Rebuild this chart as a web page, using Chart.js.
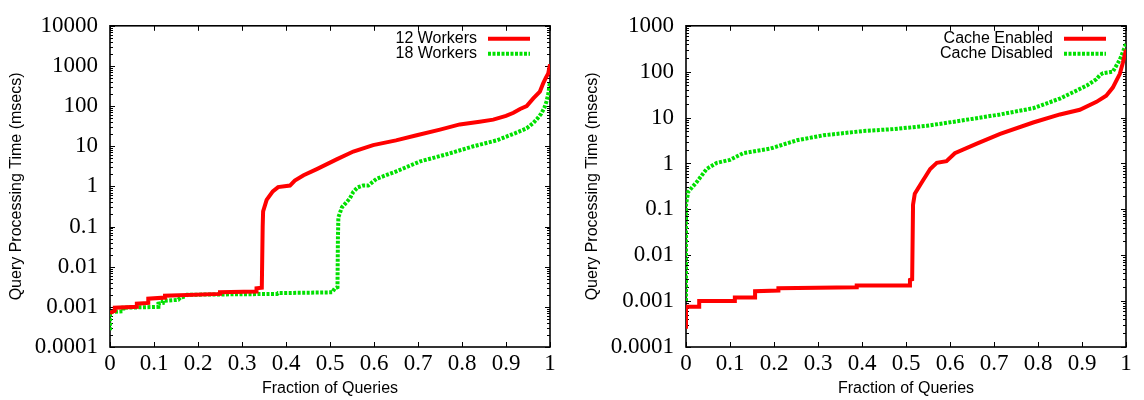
<!DOCTYPE html>
<html><head><meta charset="utf-8">
<script src="https://cdn.jsdelivr.net/npm/chart.js@4/dist/chart.umd.min.js"></script>
<style>
html,body{margin:0;padding:0;background:#fff;}
#wrap{position:relative;width:1144px;height:400px;overflow:hidden;}
.c{position:absolute;top:0;width:572px;height:400px;}
</style></head><body>
<div id="wrap">
<div class="c" style="left:0"><canvas id="left" width="572" height="400"></canvas></div>
<div class="c" style="left:572px"><canvas id="right" width="572" height="400"></canvas></div>
</div>
<script>
// ---- tick values and labels ----
const xTicks = [0, 0.1, 0.2, 0.3, 0.4, 0.5, 0.6, 0.7, 0.8, 0.9, 1];
const xTickLabels = ['0', '0.1', '0.2', '0.3', '0.4', '0.5', '0.6', '0.7', '0.8', '0.9', '1'];
const yTicksLeft = [0.0001, 0.001, 0.01, 0.1, 1, 10, 100, 1000, 10000];
const yTickLabelsLeft = ['0.0001', '0.001', '0.01', '0.1', '1', '10', '100', '1000', '10000'];
const yTicksRight = [0.0001, 0.001, 0.01, 0.1, 1, 10, 100, 1000];
const yTickLabelsRight = ['0.0001', '0.001', '0.01', '0.1', '1', '10', '100', '1000'];

const xTitle = 'Fraction of Queries';
const yTitle = 'Query Processing Time (msecs)';
const leftSeriesNames = ['12 Workers', '18 Workers'];
const rightSeriesNames = ['Cache Enabled', 'Cache Disabled'];

// ---- left chart: 12 Workers ----
const workers12X = [0, 0.011, 0.011, 0.061, 0.061, 0.087, 0.087, 0.125, 0.125, 0.25, 0.25, 0.333, 0.333, 0.345, 0.347, 0.348, 0.356, 0.37, 0.382, 0.409, 0.42, 0.44, 0.47, 0.515, 0.553, 0.598, 0.65, 0.697, 0.75, 0.795, 0.84, 0.871, 0.9, 0.917, 0.932, 0.947, 0.962, 0.977, 0.985, 0.991, 0.996, 1.0];
const workers12Y = [0.0007, 0.0008, 0.00095, 0.001, 0.0012, 0.00125, 0.0016, 0.0017, 0.0019, 0.0021, 0.0023, 0.0024, 0.0029, 0.003, 0.1, 0.24, 0.46, 0.75, 0.96, 1.05, 1.4, 1.9, 2.7, 4.7, 7.4, 10.7, 14, 18.8, 26, 35, 41, 46, 57, 68, 85, 100, 155, 230, 380, 520, 650, 1100];
// ---- left chart: 18 Workers ----
const workers18X = [0, 0, 0.005, 0.03, 0.03, 0.11, 0.11, 0.12, 0.12, 0.155, 0.16, 0.17, 0.175, 0.38, 0.382, 0.505, 0.511, 0.517, 0.518, 0.519, 0.527, 0.545, 0.553, 0.563, 0.575, 0.587, 0.606, 0.652, 0.705, 0.765, 0.826, 0.879, 0.92, 0.947, 0.962, 0.972, 0.98, 0.987, 0.992, 0.996, 1.0];
const workers18Y = [0.00026, 0.0007, 0.00075, 0.00078, 0.00095, 0.001, 0.0012, 0.00125, 0.0014, 0.0015, 0.0017, 0.0018, 0.002, 0.0021, 0.0022, 0.0023, 0.0029, 0.0031, 0.05, 0.17, 0.3, 0.5, 0.73, 0.95, 1.05, 1.05, 1.55, 2.4, 4.2, 6.3, 10, 14, 21, 28, 38, 50, 65, 90, 130, 200, 400];
// ---- right chart: Cache Enabled ----
const cacheOnX = [0, 0, 0.03, 0.03, 0.111, 0.111, 0.157, 0.157, 0.21, 0.21, 0.388, 0.388, 0.509, 0.509, 0.514, 0.516, 0.52, 0.536, 0.555, 0.57, 0.592, 0.611, 0.661, 0.714, 0.789, 0.85, 0.895, 0.933, 0.955, 0.97, 0.986, 0.993, 1.0];
const cacheOnY = [0.00025, 0.00075, 0.00075, 0.001, 0.001, 0.0012, 0.0012, 0.00165, 0.0017, 0.0019, 0.002, 0.0022, 0.0022, 0.0029, 0.003, 0.126, 0.22, 0.39, 0.76, 1.03, 1.12, 1.67, 2.7, 4.4, 7.8, 11.7, 14.8, 22, 30, 45, 90, 158, 300];
// ---- right chart: Cache Disabled ----
const cacheOffX = [0, 0, 0.005, 0.024, 0.047, 0.07, 0.1, 0.13, 0.191, 0.252, 0.312, 0.403, 0.471, 0.547, 0.623, 0.714, 0.789, 0.85, 0.888, 0.911, 0.933, 0.941, 0.948, 0.97, 0.986, 1.0];
const cacheOffY = [0.001, 0.126, 0.24, 0.39, 0.76, 1.03, 1.2, 1.67, 2.1, 3.2, 4.1, 5.1, 5.6, 6.6, 8.5, 11.7, 16, 26, 39, 50, 69, 85, 93, 100, 183, 400];

const RED = '#ff0000';
const GREEN = '#00e000';

function pts(xs, ys) { return xs.map((x, i) => ({x: x, y: ys[i]})); }

const frameTicks = {
  id: 'frameTicks',
  beforeDatasetsDraw(chart) {
    const {ctx, chartArea: a} = chart;
    const xs = chart.scales.x, ys = chart.scales.y;
    ctx.save();
    ctx.strokeStyle = '#000';
    ctx.lineWidth = 1;
    ctx.beginPath();
    xs.ticks.forEach(t => {
      const p = Math.round(xs.getPixelForValue(t.value)) + 0.5;
      ctx.moveTo(p, a.bottom); ctx.lineTo(p, a.bottom - 5);
      ctx.moveTo(p, a.top); ctx.lineTo(p, a.top + 5);
    });
    const lo = Math.round(Math.log10(ys.min)), hi = Math.round(Math.log10(ys.max));
    for (let k = lo; k <= hi; k++) {
      const major = Math.pow(10, k);
      const p = Math.round(ys.getPixelForValue(major)) + 0.5;
      ctx.moveTo(a.left, p); ctx.lineTo(a.left + 5, p);
      ctx.moveTo(a.right, p); ctx.lineTo(a.right - 5, p);
      if (k < hi) {
        for (let m = 2; m <= 9; m++) {
          const q = Math.round(ys.getPixelForValue(m * major)) + 0.5;
          ctx.moveTo(a.left, q); ctx.lineTo(a.left + 3, q);
          ctx.moveTo(a.right, q); ctx.lineTo(a.right - 3, q);
        }
      }
    }
    ctx.stroke();
    ctx.lineWidth = 1.6;
    ctx.strokeRect(a.left, a.top, a.right - a.left, a.bottom - a.top);
    ctx.restore();
  }
};

const innerLegend = {
  id: 'innerLegend',
  afterDatasetsDraw(chart) {
    const {ctx, chartArea: a} = chart;
    chart.data.datasets.forEach((ds, i) => {
      const y = a.top + 13 + i * 15;
      ctx.save();
      ctx.font = '16px "Liberation Sans", Arial, sans-serif';
      ctx.fillStyle = '#000';
      ctx.textAlign = 'right';
      ctx.textBaseline = 'middle';
      ctx.fillText(ds.label, a.right - 73, y);
      ctx.strokeStyle = ds.borderColor;
      ctx.lineWidth = ds.borderWidth;
      ctx.setLineDash(ds.borderDash || []);
      ctx.beginPath();
      ctx.moveTo(a.right - 62, y); ctx.lineTo(a.right - 20, y);
      ctx.stroke();
      ctx.restore();
    });
  }
};

function makeChart(id, datasets, yMin, yMax, yTicks, yLabels, yWidth, padRight, yTitlePad) {
  return new Chart(document.getElementById(id), {
    type: 'line',
    data: {datasets: datasets},
    options: {
      responsive: false, animation: false, devicePixelRatio: 1,
      layout: {padding: {top: 15, right: padRight, left: 0, bottom: 0}},
      plugins: {legend: {display: false}, tooltip: {enabled: false}},
      elements: {point: {radius: 0}, line: {tension: 0}},
      scales: {
        x: {
          type: 'linear', min: 0, max: 1,
          afterBuildTicks: s => { s.ticks = xTicks.map(v => ({value: v})); },
          afterFit: s => { s.height = 53; },
          grid: {display: false, drawTicks: false}, border: {display: false},
          ticks: {font: {family: 'Liberation Serif', size: 23}, color: '#000', padding: 3, maxRotation: 0, autoSkip: false,
                  callback: (v, i) => xTickLabels[i]},
          title: {display: true, text: xTitle, color: '#000', font: {family: 'Liberation Sans', size: 16}, padding: {top: 0, bottom: 2}}
        },
        y: {
          type: 'logarithmic', min: yMin, max: yMax,
          afterBuildTicks: s => { s.ticks = yTicks.map(v => ({value: v})); },
          afterFit: s => { s.width = yWidth; },
          grid: {display: false, drawTicks: false}, border: {display: false},
          ticks: {font: {family: 'Liberation Serif', size: 23}, color: '#000', padding: 12, autoSkip: false,
                  callback: (v, i) => yLabels[i]},
          title: {display: true, text: yTitle, color: '#000', font: {family: 'Liberation Sans', size: 16}, padding: {top: yTitlePad, bottom: 0}}
        }
      }
    },
    plugins: [frameTicks, innerLegend]
  });
}

makeChart('left', [
  {label: leftSeriesNames[0], data: pts(workers12X, workers12Y), borderColor: RED, borderWidth: 4, fill: false},
  {label: leftSeriesNames[1], data: pts(workers18X, workers18Y), borderColor: GREEN, borderWidth: 4, borderDash: [3, 1.5], fill: false}
], 0.0001, 10000, yTicksLeft, yTickLabelsLeft, 110, 22, 7);

makeChart('right', [
  {label: rightSeriesNames[0], data: pts(cacheOnX, cacheOnY), borderColor: RED, borderWidth: 4, fill: false},
  {label: rightSeriesNames[1], data: pts(cacheOffX, cacheOffY), borderColor: GREEN, borderWidth: 4, borderDash: [3, 1.5], fill: false}
], 0.0001, 1000, yTicksRight, yTickLabelsRight, 114, 18, 11);
</script>
</body></html>
